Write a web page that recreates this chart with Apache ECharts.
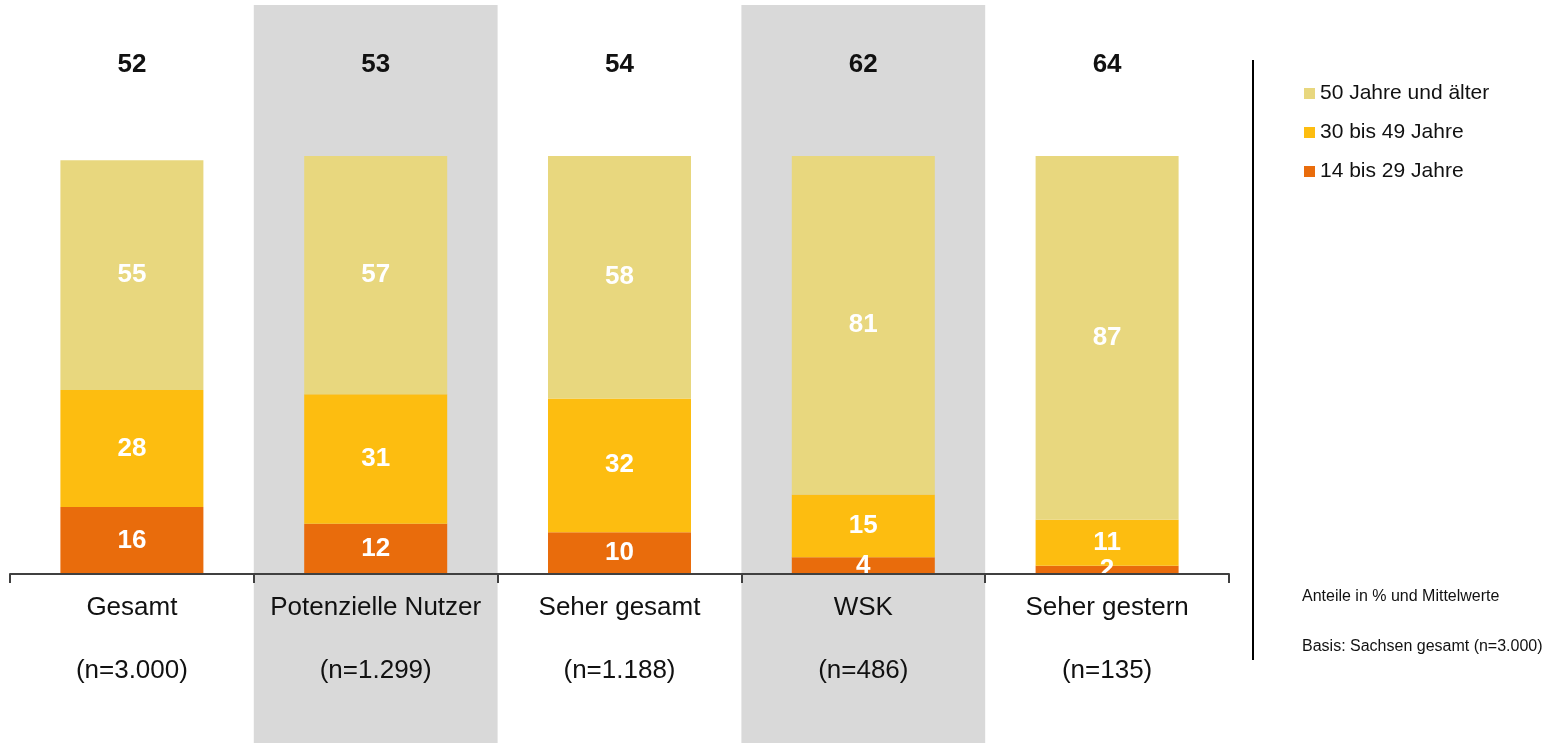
<!DOCTYPE html>
<html>
<head>
<meta charset="utf-8">
<script src="https://cdn.jsdelivr.net/npm/echarts@6/dist/echarts.min.js"></script>
<style>
  html, body { margin: 0; padding: 0; background: #fff; }
  #chart { width: 1559px; height: 743px; }
</style>
</head>
<body>
<div id="chart"></div>
<script>
    var categories = ['Gesamt', 'Potenzielle Nutzer', 'Seher gesamt', 'WSK', 'Seher gestern'];
    var sampleSizes = ['(n=3.000)', '(n=1.299)', '(n=1.188)', '(n=486)', '(n=135)'];
    var meanAge = [52, 53, 54, 62, 64];
    var age14to29 = [16, 12, 10, 4, 2];
    var age30to49 = [28, 31, 32, 15, 11];
    var age50plus = [55, 57, 58, 81, 87];
    var shaded = [0, 1, 0, 1, 0];

    var myChart = echarts.init(document.getElementById('chart'));

    var valueLabel = {
        show: true,
        position: 'inside',
        color: '#fff',
        fontSize: 26,
        fontWeight: 'bold',
        fontFamily: 'Liberation Sans'
    };

    var option = {
        animation: false,
        textStyle: { fontFamily: 'Liberation Sans' },
        grid: [
            { left: 10, right: 330, top: 156, bottom: 169 },
            { left: 10, right: 330, top: 5, bottom: 0 }
        ],
        legend: {
            data: ['50 Jahre und älter', '30 bis 49 Jahre', '14 bis 29 Jahre'],
            orient: 'vertical',
            left: 1304,
            top: 83,
            padding: 0,
            itemWidth: 11,
            itemHeight: 11,
            itemGap: 18,
            icon: 'rect',
            textStyle: { fontSize: 21, color: '#111' }
        },
        xAxis: [
            {
                type: 'category',
                gridIndex: 0,
                data: categories,
                zlevel: 1,
                axisLine: { lineStyle: { color: '#404040', width: 2 } },
                axisTick: { show: true, interval: 0, length: 9, lineStyle: { color: '#404040', width: 2 } },
                axisLabel: {
                    interval: 0,
                    margin: 2,
                    fontSize: 26,
                    color: '#111',
                    lineHeight: 63,
                    formatter: function (v, i) { return v + '\n' + sampleSizes[i]; }
                }
            },
            {
                type: 'category',
                gridIndex: 0,
                position: 'top',
                data: meanAge,
                zlevel: 1,
                axisLine: { show: false },
                axisTick: { show: false },
                axisLabel: { interval: 0, margin: 78, fontSize: 26, fontWeight: 'bold', color: '#111' }
            },
            {
                type: 'category',
                gridIndex: 1,
                data: categories,
                show: false
            }
        ],
        yAxis: [
            { type: 'value', gridIndex: 0, min: 0, max: 100, show: false },
            { type: 'value', gridIndex: 1, min: 0, max: 1, show: false }
        ],
        graphic: [
            {
                type: 'line',
                shape: { x1: 1253, y1: 60, x2: 1253, y2: 660 },
                style: { stroke: '#000', lineWidth: 2 }
            },
            {
                type: 'text',
                left: 1302, top: 589,
                style: { text: 'Anteile in % und Mittelwerte', fontSize: 16, fill: '#111', fontFamily: 'Liberation Sans' }
            },
            {
                type: 'text',
                left: 1302, top: 639,
                style: { text: 'Basis: Sachsen gesamt (n=3.000)', fontSize: 16, fill: '#111', fontFamily: 'Liberation Sans' }
            }
        ],
        series: [
            {
                name: 'band',
                type: 'bar',
                xAxisIndex: 2,
                yAxisIndex: 1,
                data: shaded,
                barWidth: '100%',
                itemStyle: { color: '#D9D9D9' },
                z: 0,
                silent: true
            },
            {
                name: '14 bis 29 Jahre',
                type: 'bar',
                stack: 'age',
                barWidth: 143,
                data: age14to29,
                itemStyle: { color: '#E96C0C' },
                label: valueLabel,
                z: 3
            },
            {
                name: '30 bis 49 Jahre',
                type: 'bar',
                stack: 'age',
                barWidth: 143,
                data: age30to49,
                itemStyle: { color: '#FDBD10' },
                label: valueLabel,
                z: 3
            },
            {
                name: '50 Jahre und älter',
                type: 'bar',
                stack: 'age',
                barWidth: 143,
                data: age50plus,
                itemStyle: { color: '#E8D77E' },
                label: valueLabel,
                z: 3
            }
        ]
    };

    myChart.setOption(option);
</script>
</body>
</html>
